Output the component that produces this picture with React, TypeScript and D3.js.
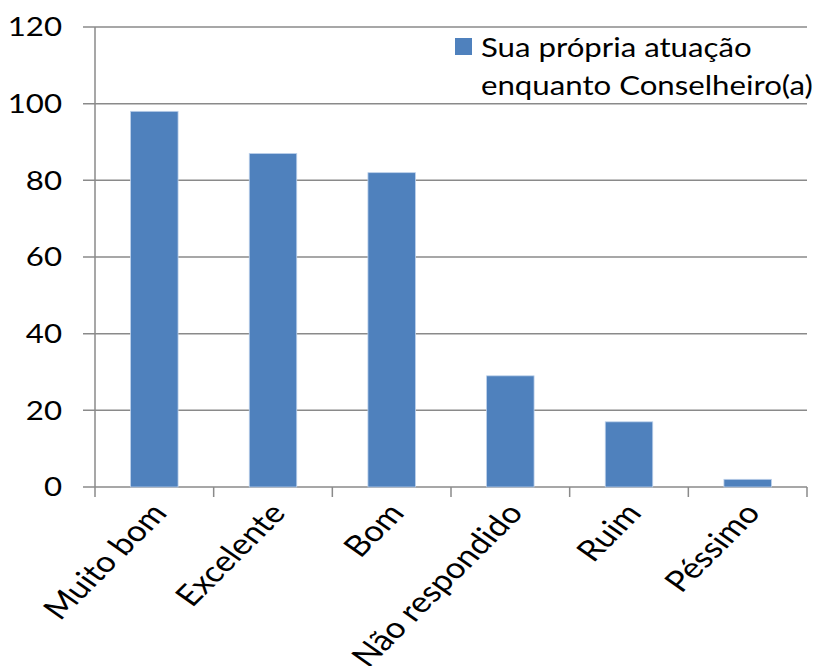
import React, { useEffect, useRef } from "react";
import * as d3 from "d3";

const categories = ["Muito bom", "Excelente", "Bom", "Não respondido", "Ruim", "Péssimo"];
const values = [98, 87, 82, 29, 17, 2];
const yTicks = [0, 20, 40, 60, 80, 100, 120];
const seriesName = ["Sua própria atuação", "enquanto Conselheiro(a)"];

const W = 816;
const H = 666;
const FONT = "Lato, 'Open Sans', sans-serif";
const SX = 1.2;

export default function App() {
  const ref = useRef<SVGSVGElement>(null);
  useEffect(() => {
    const svg = d3.select(ref.current);
    svg.selectAll("*").remove();
    const left = 95, right = 807, top = 27, bottom = 487;
    const y = d3.scaleLinear().domain([0, 120]).range([bottom, top]);
    const x = d3.scaleBand<string>().domain(categories).range([left, right]).padding(0);
    const grid = "#8a8a8a";

    svg.append("g").selectAll("line").data(yTicks).join("line")
      .attr("x1", left - 12).attr("x2", right)
      .attr("y1", d => y(d)).attr("y2", d => y(d))
      .attr("stroke", grid).attr("stroke-width", 1.5);

    svg.append("line").attr("x1", left).attr("x2", left).attr("y1", top).attr("y2", bottom)
      .attr("stroke", grid).attr("stroke-width", 1.5);

    const bounds = categories.map(c => x(c)!).concat([right]);
    svg.append("g").selectAll("line").data(bounds).join("line")
      .attr("x1", d => d).attr("x2", d => d).attr("y1", bottom).attr("y2", bottom + 10)
      .attr("stroke", grid).attr("stroke-width", 1.5);

    const bw = x.bandwidth() * 0.4;
    svg.append("g").selectAll("rect").data(values).join("rect")
      .attr("x", (d, i) => x(categories[i])! + x.bandwidth() / 2 - bw / 2)
      .attr("width", bw)
      .attr("y", d => y(d))
      .attr("height", d => y(0) - y(d))
      .attr("fill", "#4F81BD")
      .attr("stroke", "#bcd0ea").attr("stroke-width", 0.8);

    svg.append("g").selectAll("text").data(yTicks).join("text")
      .attr("transform", d => `translate(62,${y(d)}) scale(${SX},1)`)
      .attr("text-anchor", "end")
      .attr("dy", "0.36em")
      .attr("font-family", FONT).attr("font-size", 26).attr("fill", "#000")
      .text(d => d);

    svg.append("g").selectAll("text").data(categories).join("text")
      .attr("transform", d => `translate(${x(d)! + x.bandwidth() / 2 + 14},${bottom + 27}) scale(${SX},1) rotate(-50)`)
      .attr("text-anchor", "end")
      .attr("font-family", FONT).attr("font-size", 29).attr("fill", "#000")
      .text(d => d);

    const lg = svg.append("g");
    lg.append("rect").attr("x", 455).attr("y", 38).attr("width", 17).attr("height", 17).attr("fill", "#4F81BD");
    lg.selectAll("text").data(seriesName).join("text")
      .attr("transform", (d, i) => `translate(481,${57 + i * 38}) scale(${SX},1)`)
      .attr("font-family", FONT).attr("font-size", 26).attr("fill", "#000")
      .text(d => d);
  }, []);
  return (
    <svg ref={ref} width={W} height={H} style={{ position: "absolute", left: 0, top: 0, background: "#fff" }} />
  );
}
